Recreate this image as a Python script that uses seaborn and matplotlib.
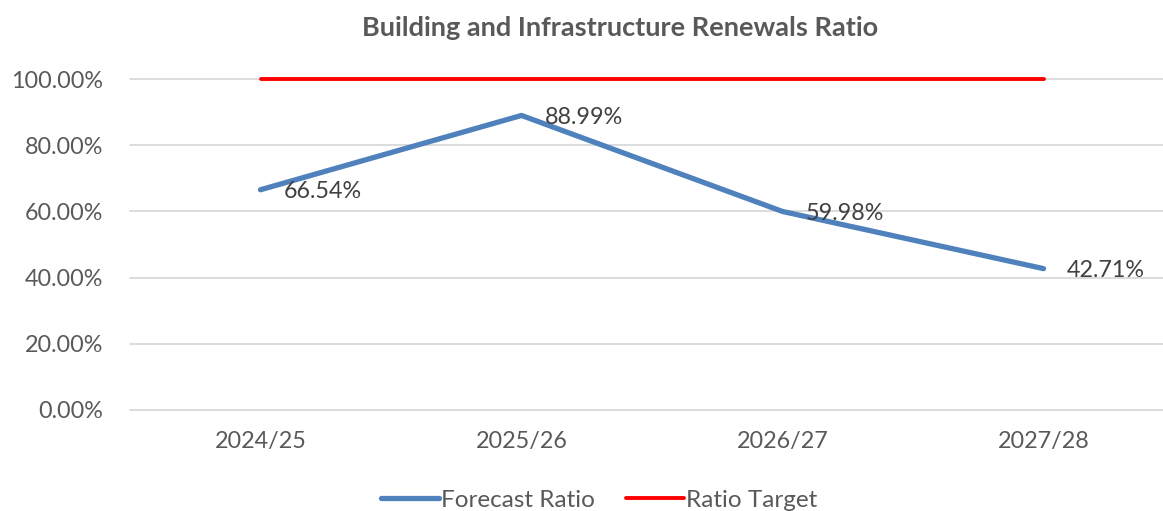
import matplotlib
matplotlib.use("Agg")
import matplotlib.pyplot as plt
import seaborn as sns
import pandas as pd
from matplotlib.ticker import PercentFormatter

years = ["2024/25", "2025/26", "2026/27", "2027/28"]
forecast = [0.6654, 0.8899, 0.5998, 0.4271]
target = [1.0, 1.0, 1.0, 1.0]
series_names = ["Forecast Ratio", "Ratio Target"]
yticks = [0.0, 0.2, 0.4, 0.6, 0.8, 1.0]

sns.set_theme(style="white")
plt.rcParams['font.family'] = ['Lato', 'DejaVu Sans']

W, H = 1163, 511
fig = plt.figure(figsize=(W / 100, H / 100), dpi=100)
left, right, top, bottom = 130, 1174, 79, 410
ax = fig.add_axes([left / W, 1 - bottom / H, (right - left) / W, (bottom - top) / H])

x = list(range(len(years)))
df = pd.DataFrame({
    "x": x * 2,
    "value": forecast + target,
    "series": [series_names[0]] * 4 + [series_names[1]] * 4,
})

palette = {series_names[0]: "#4F81BD", series_names[1]: "#FF0000"}
sns.lineplot(data=df[df.series == series_names[0]], x="x", y="value", ax=ax,
             color=palette[series_names[0]], linewidth=3.8, label=series_names[0],
             solid_capstyle="round", zorder=3)
sns.lineplot(data=df[df.series == series_names[1]], x="x", y="value", ax=ax,
             color=palette[series_names[1]], linewidth=2.8, label=series_names[1],
             solid_capstyle="round", zorder=3)
for ln in ax.lines:
    ln.set_clip_on(False)

ax.set_xlim(-0.5, len(years) - 0.5)
ax.set_ylim(0, 1.0)
ax.set_yticks(yticks)
ax.yaxis.set_major_formatter(PercentFormatter(1.0, decimals=2))
ax.set_xticks(x)
ax.set_xticklabels(years)
ax.grid(axis="y", color="#D9D9D9", linewidth=1.3, zorder=0)
ax.grid(axis="x", visible=False)
for gl in ax.get_ygridlines():
    gl.set_clip_on(False)
for s in ax.spines.values():
    s.set_visible(False)
ax.tick_params(axis="both", length=0, labelsize=16.8, labelcolor="#595959")
ax.tick_params(axis="y", pad=19)
ax.tick_params(axis="x", pad=15)
ax.set_xlabel("")
ax.set_ylabel("")

for xi, v in zip(x, forecast):
    ax.annotate(f"{v * 100:.2f}%", (xi, v), xytext=(16.5, -1.5), textcoords="offset points",
                ha="left", va="center", fontsize=16.8, color="#404040", zorder=4)

ax.get_legend().remove()
handles, labels = ax.get_legend_handles_labels()
fig.legend(handles, labels, loc="center", bbox_to_anchor=(599 / W, 1 - 500 / H),
           ncol=2, frameon=False, fontsize=17.5, handlelength=2.4, handletextpad=0.05,
           columnspacing=1.3, labelcolor="#595959")

fig.text(620 / W, 1 - 28 / H, "Building and Infrastructure Renewals Ratio",
         ha="center", va="center", fontsize=19.5, fontweight="bold", color="#595959")

fig.savefig("out.png", dpi=100)
